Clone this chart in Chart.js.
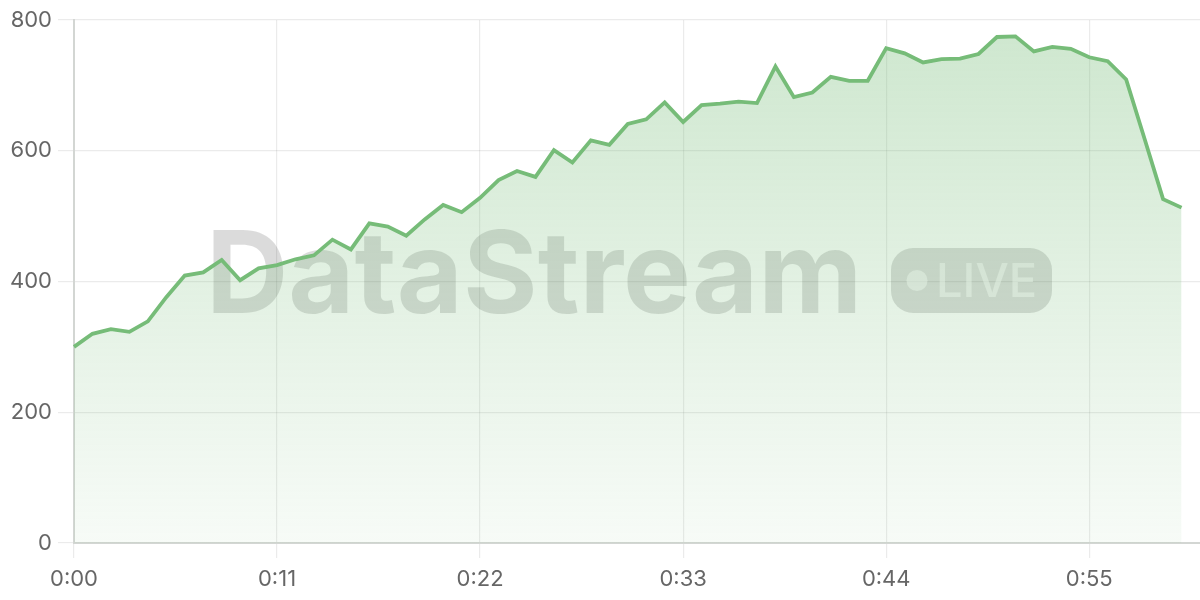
<!DOCTYPE html>
<html>
<head>
<meta charset="utf-8">
<script src="https://cdn.jsdelivr.net/npm/chart.js@4.4.1/dist/chart.umd.min.js"></script>
<style>
  html, body { margin: 0; padding: 0; background: #ffffff; }
  #wrap { width: 1200px; height: 600px; position: relative; }
</style>
</head>
<body>
<div id="wrap"><canvas id="c" width="1200" height="600"></canvas></div>
<script>
// ---- data ----
const timeLabels = [
  '0:00','0:01','0:02','0:03','0:04','0:05','0:06','0:07','0:08','0:09',
  '0:10','0:11','0:12','0:13','0:14','0:15','0:16','0:17','0:18','0:19',
  '0:20','0:21','0:22','0:23','0:24','0:25','0:26','0:27','0:28','0:29',
  '0:30','0:31','0:32','0:33','0:34','0:35','0:36','0:37','0:38','0:39',
  '0:40','0:41','0:42','0:43','0:44','0:45','0:46','0:47','0:48','0:49',
  '0:50','0:51','0:52','0:53','0:54','0:55','0:56','0:57','0:58','0:59',
  '1:00','1:01'
];
const streamValues = [
  300, 320, 327, 323, 339, 376, 409, 414, 433, 402,
  420, 425, 434, 440, 464, 449, 489, 484, 470, 495,
  517, 506, 528, 555, 569, 560, 601, 582, 616, 609,
  641, 648, 674, 644, 670, 672, 675, 673, 729, 682,
  689, 713, 707, 707, 757, 749, 735, 740, 741, 748,
  774, 775, 752, 759, 756, 743, 737, 709, 618, 526,
  513
];
const shownTickLabels = ['0:00','0:11','0:22','0:33','0:44','0:55'];
const yTicks = [0, 200, 400, 600, 800];

const FONT = 'Inter, "Liberation Sans", sans-serif';
const LINE = '#76bc78';

const watermark = {
  id: 'watermark',
  beforeDatasetsDraw(chart) {
    const ctx = chart.ctx;
    ctx.save();
    ctx.fillStyle = 'rgba(0,0,0,0.14)';
    ctx.font = '700 114px Inter, sans-serif';
    ctx.textAlign = 'left';
    ctx.textBaseline = 'alphabetic';
    ctx.fillText('DataStream', 206, 313);
    // pill
    const px = 891, py = 248, pw = 161, ph = 65, r = 22;
    ctx.beginPath();
    ctx.moveTo(px + r, py);
    ctx.lineTo(px + pw - r, py);
    ctx.arcTo(px + pw, py, px + pw, py + r, r);
    ctx.lineTo(px + pw, py + ph - r);
    ctx.arcTo(px + pw, py + ph, px + pw - r, py + ph, r);
    ctx.lineTo(px + r, py + ph);
    ctx.arcTo(px, py + ph, px, py + ph - r, r);
    ctx.lineTo(px, py + r);
    ctx.arcTo(px, py, px + r, py, r);
    ctx.closePath();
    ctx.fill();
    ctx.fillStyle = 'rgba(255,255,255,0.55)';
    ctx.beginPath();
    ctx.arc(917, 280.5, 10.5, 0, Math.PI * 2);
    ctx.fill();
    ctx.font = '500 47px Inter, sans-serif';
    ctx.fillText('LIVE', 936, 297);
    ctx.restore();
  }
};

const ctx = document.getElementById('c').getContext('2d');
new Chart(ctx, {
  type: 'line',
  data: {
    labels: timeLabels,
    datasets: [{
      data: streamValues,
      borderColor: LINE,
      borderWidth: 3.8,
      pointRadius: 0,
      pointHoverRadius: 0,
      tension: 0,
      fill: 'origin',
      backgroundColor(context) {
        const chart = context.chart;
        const area = chart.chartArea;
        if (!area) return 'rgba(118,188,120,0.2)';
        const g = chart.ctx.createLinearGradient(0, area.top, 0, area.bottom);
        g.addColorStop(0, 'rgba(118,188,120,0.36)');
        g.addColorStop(1, 'rgba(118,188,120,0.06)');
        return g;
      }
    }]
  },
  options: {
    responsive: false,
    animation: false,
    devicePixelRatio: 1,
    layout: { padding: { top: 20, right: 0, bottom: 0, left: 0 } },
    plugins: { legend: { display: false }, tooltip: { enabled: false } },
    scales: {
      x: {
        type: 'category',
        afterFit(scale) { scale.height = 57; },
        grid: { color: 'rgba(0,0,0,0.08)', lineWidth: 1.2, tickLength: 15, drawTicks: true },
        border: { color: '#d3d6d3', width: 2 },
        ticks: {
          autoSkip: false,
          maxRotation: 0,
          padding: 8,
          color: '#666666',
          font: { family: FONT, size: 22 },
          callback(value) {
            const lab = this.getLabelForValue(value);
            return shownTickLabels.includes(lab) ? lab : null;
          }
        }
      },
      y: {
        min: yTicks[0],
        max: yTicks[yTicks.length - 1],
        afterFit(scale) { scale.width = 74; },
        grid: { color: 'rgba(0,0,0,0.08)', lineWidth: 1.2, tickLength: 16 },
        border: { color: '#d3d6d3', width: 2 },
        ticks: {
          stepSize: 200,
          padding: 6,
          color: '#666666',
          font: { family: FONT, size: 22 }
        }
      }
    }
  },
  plugins: [watermark]
});
</script>
</body>
</html>
